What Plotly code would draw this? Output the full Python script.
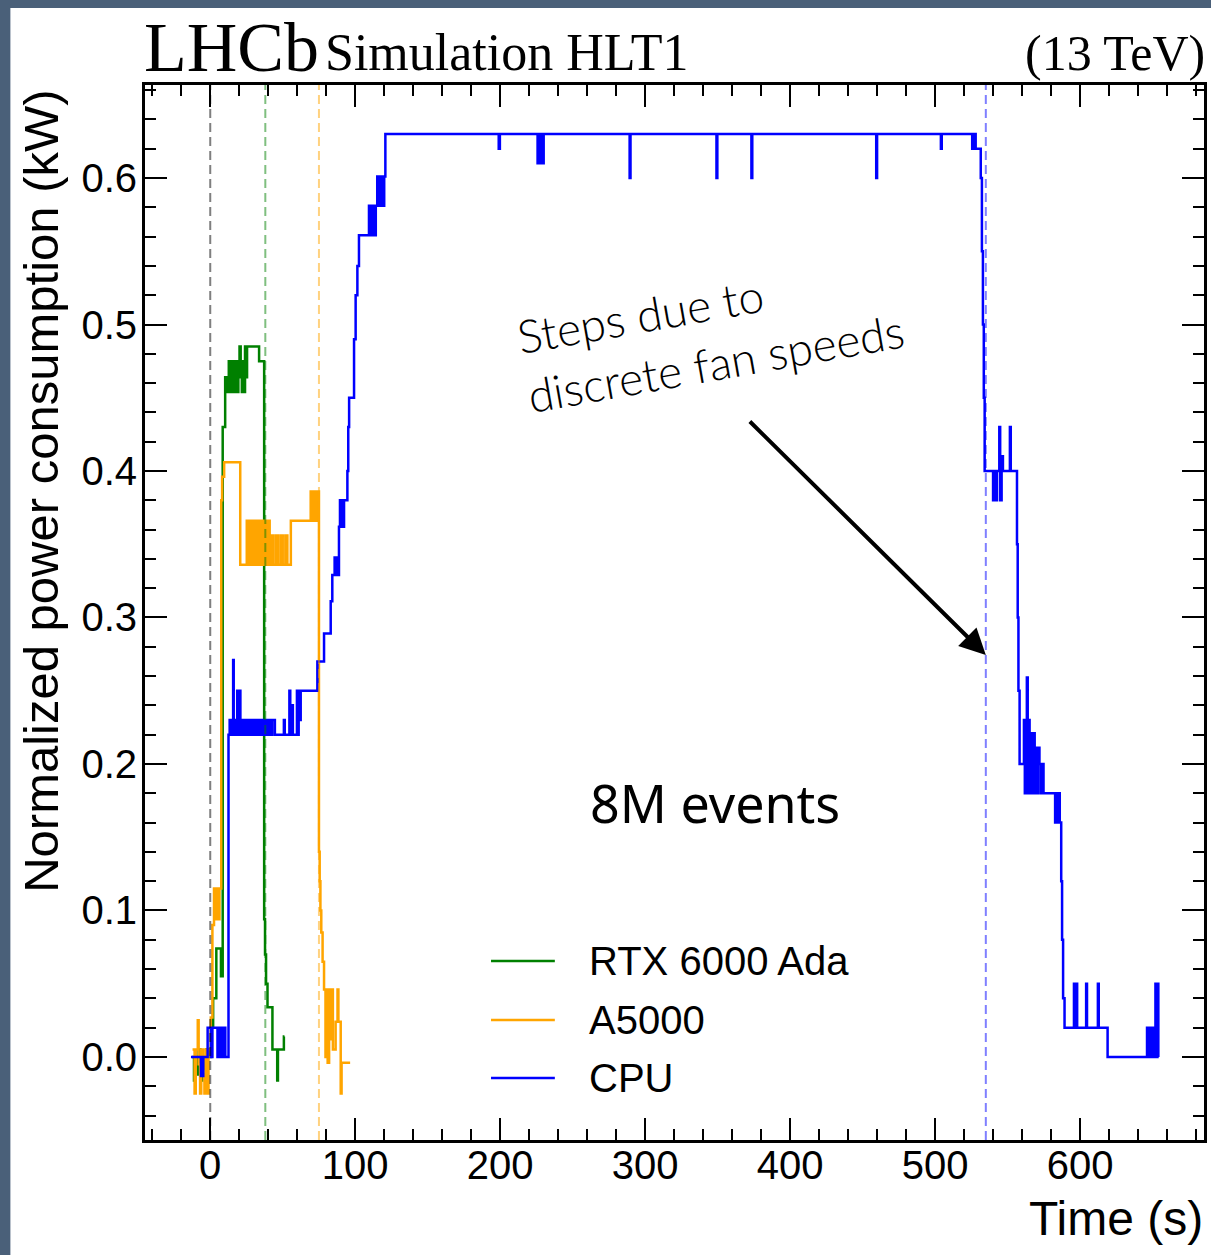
import plotly.graph_objects as go

# ---------------- data ----------------
rtx_t = [-12.5, -11.2, -10.4, -9.2, -8.0, -6.8, -5.5, -4.0, -2.6, -1.2,
         0.6, 2.0, 4.2, 7.4, 8.6, 10.3, 11.0, 11.6, 12.2, 12.8,
         13.4, 14.0, 14.6, 15.2, 15.8, 16.4, 17.0, 17.8, 18.6, 19.4,
         20.2, 21.0, 21.8, 22.6, 23.2, 24.0, 24.8, 25.4, 33.7, 37.2,
         37.8, 38.5, 39.5, 42.9, 46.2, 46.7, 50.8, 51.2]
rtx_v = [0.0, -0.016, 0.0, -0.012, 0.005, -0.016, 0.0, -0.008, 0.005, 0.0,
         0.02, 0.04, 0.074, 0.055, 0.43, 0.464, 0.454, 0.464, 0.454, 0.475,
         0.454, 0.475, 0.464, 0.454, 0.475, 0.454, 0.464, 0.475, 0.454, 0.475,
         0.485, 0.464, 0.454, 0.475, 0.454, 0.485, 0.464, 0.485, 0.475, 0.094,
         0.07, 0.05, 0.034, 0.005, -0.016, 0.005, 0.014, 0.014]

a5k_t = [-12.2, -10.8, -10.0, -8.6, -8.0, -7.0, -6.2, -5.0, -4.0, -3.2,
         -2.0, -1.2, 0.4, 1.5, 2.6, 3.6, 4.6, 5.6, 6.4, 7.6,
         8.2, 9.6,
         20.7, 25.2, 26.4, 27.6, 28.8, 30.0, 31.2, 32.6, 33.8, 35.0,
         36.2, 37.4, 38.6, 39.8, 41.0, 42.2, 43.6, 45.4, 46.8, 48.6,
         50.0, 51.8, 53.2, 55.6,
         69.3, 70.0, 70.7, 71.4, 72.1, 72.8, 73.5, 75.0, 75.5, 76.0,
         76.6, 77.5, 78.5, 79.5, 80.3, 81.0, 82.0, 82.8, 84.0, 84.6,
         86.5, 87.8, 88.4, 90.0, 90.6, 96.5]
a5k_v = [0.005, -0.025, 0.005, 0.025, -0.005, -0.025, 0.005, -0.012, -0.025, 0.005,
         -0.025, 0.005, 0.027, 0.09, 0.115, 0.094, 0.115, 0.094, 0.115, 0.38,
         0.396, 0.406,
         0.336, 0.366, 0.336, 0.366, 0.336, 0.366, 0.336, 0.366, 0.336, 0.366,
         0.336, 0.366, 0.336, 0.366, 0.336, 0.356, 0.336, 0.356, 0.336, 0.356,
         0.336, 0.356, 0.336, 0.366,
         0.386, 0.366, 0.386, 0.366, 0.386, 0.366, 0.386, 0.14, 0.12, 0.10,
         0.085, 0.065, 0.046, 0.0, 0.046, -0.004, 0.046, 0.012, 0.046, 0.005,
         0.024, 0.046, 0.024, -0.025, -0.004, -0.004]

cpu_t = [
    -13.3, -6.4, -4.8, -1.8, 0.5, 1.5, 5.0, 5.6, 6.3, 7.0, 7.7, 8.4, 9.1, 9.7, 10.4,
    12.6, 13.4, 14.2, 15.0, 15.8, 16.2, 17.0, 17.6, 18.6, 19.0,
    20.3, 20.8, 21.6, 22.4, 23.2, 24.0, 24.8, 25.6, 26.6, 27.4,
    28.4, 29.2, 30.2, 31.0, 32.0, 32.8, 33.8, 34.6, 35.6, 36.4,
    37.4, 38.2, 39.2, 40.0, 41.0, 41.8, 42.8, 44.6, 50.8, 51.4,
    54.6, 55.2, 56.4, 57.0, 59.8, 60.4, 61.0, 61.6, 62.4,
    73.9, 78.5, 83.1, 84.2, 85.8, 86.5, 87.2, 88.0, 88.8, 89.5,
    90.2, 90.9, 91.6, 92.3, 94.6, 95.2, 95.8, 99.2, 100.3, 101.5,
    102.6, 109.5, 110.3, 111.0, 111.8, 112.6, 113.4, 114.2, 115.2, 116.0,
    116.8, 117.6, 118.4, 119.4, 120.0, 120.8,
    199.0, 199.8, 225.8, 226.4, 227.0, 227.6, 228.2, 228.8, 229.4, 230.0,
    289.3, 289.9, 349.2, 349.8, 373.3, 373.9, 459.4, 460.0, 504.0, 504.6,
    525.6, 526.2, 526.8, 527.4, 528.0,
    531.5, 532.3, 533.0, 533.6, 534.2, 540.0, 540.8, 541.6, 542.7, 544.3,
    544.9, 545.9, 546.8, 551.6, 552.2, 556.5, 557.0, 557.5, 558.3, 561.3,
    561.9, 562.5, 563.3, 563.9, 564.5, 565.2, 566.5, 567.2, 568.0, 568.7,
    569.6, 570.3, 571.2, 572.0, 573.0, 574.0, 574.8, 582.8, 583.6, 584.4,
    585.2, 586.0, 587.0, 587.6, 588.3, 589.3, 595.8, 596.4, 597.4, 598.0,
    604.2, 604.8, 612.3, 612.9, 619.0, 646.2, 647.0, 647.8, 648.6, 649.4,
    650.2, 651.2, 652.0, 652.6, 653.4, 654.0]
cpu_v = [
    0.0, -0.013, 0.0, 0.02, 0.0, 0.02, 0.0, 0.02, 0.0, 0.02, 0.0, 0.02, 0.0, 0.02, 0.0,
    0.22, 0.23, 0.22, 0.23, 0.271, 0.22, 0.23, 0.22, 0.25, 0.22,
    0.25, 0.22, 0.23, 0.22, 0.23, 0.22, 0.23, 0.22, 0.23, 0.22,
    0.23, 0.22, 0.23, 0.22, 0.23, 0.22, 0.23, 0.22, 0.23, 0.22,
    0.23, 0.22, 0.23, 0.22, 0.23, 0.22, 0.23, 0.22, 0.23, 0.22,
    0.25, 0.22, 0.24, 0.22, 0.25, 0.22, 0.25, 0.23, 0.25,
    0.27, 0.289, 0.311, 0.329, 0.341, 0.329, 0.341, 0.329, 0.362, 0.38,
    0.362, 0.38, 0.362, 0.38, 0.40, 0.43, 0.45, 0.49, 0.52, 0.54,
    0.561, 0.581, 0.561, 0.581, 0.561, 0.581, 0.561, 0.581, 0.601, 0.581,
    0.601, 0.581, 0.601, 0.581, 0.601, 0.63,
    0.62, 0.63, 0.61, 0.63, 0.61, 0.63, 0.61, 0.63, 0.61, 0.63,
    0.60, 0.63, 0.60, 0.63, 0.60, 0.63, 0.60, 0.63, 0.62, 0.63,
    0.62, 0.63, 0.62, 0.63, 0.62,
    0.60, 0.55, 0.50, 0.45, 0.40, 0.38, 0.40, 0.38, 0.40, 0.43,
    0.38, 0.41, 0.40, 0.43, 0.40, 0.35, 0.30, 0.25, 0.20, 0.23,
    0.18, 0.23, 0.259, 0.18, 0.23, 0.18, 0.221, 0.18, 0.221, 0.18,
    0.211, 0.18, 0.211, 0.20, 0.18, 0.20, 0.18, 0.16, 0.18, 0.16,
    0.18, 0.16, 0.12, 0.08, 0.04, 0.02, 0.05, 0.02, 0.05, 0.02,
    0.05, 0.02, 0.05, 0.02, 0.0, 0.02, 0.0, 0.02, 0.0, 0.02,
    0.0, 0.02, 0.05, 0.0, 0.05, 0.0]

assert len(rtx_t) == len(rtx_v)
assert len(a5k_t) == len(a5k_v)
assert len(cpu_t) == len(cpu_v)

series_names = ["RTX 6000 Ada", "A5000", "CPU"]
series_colors = ["#008000", "#FFA500", "#0000FF"]
marker_t = [0, 38, 75, 535]            # dashed vertical reference times (s)
marker_colors = ["rgba(0,0,0,0.5)", "rgba(0,128,0,0.5)",
                 "rgba(255,165,0,0.5)", "rgba(0,0,255,0.5)"]

# ---------------- figure ----------------
W, H = 1211, 1255
ML, MR, MT, MB = 145, 4, 85, 115
PW, PH = W - ML - MR, H - MT - MB


def px_x(p):
    return (p - ML) / PW


def px_y(p):
    return (H - MB - p) / PH


fig = go.Figure()
for t, v, name, col in zip([rtx_t, a5k_t, cpu_t], [rtx_v, a5k_v, cpu_v],
                           series_names, series_colors):
    fig.add_trace(go.Scatter(x=t, y=v, mode="lines", name=name,
                             line=dict(color=col, width=2.5, shape="hv")))

shapes = [dict(type="rect", xref="paper", yref="paper",
               x0=px_x(10), x1=1.05, y0=-0.3, y1=px_y(8),
               fillcolor="white", line=dict(width=0), layer="below")]
for t, c in zip(marker_t, marker_colors):
    shapes.append(dict(type="line", xref="x", yref="paper", x0=t, x1=t, y0=0, y1=1,
                       line=dict(color=c, width=2, dash="9px,5px"), layer="above"))

# manual legend
leg_y = [961, 1020, 1078]
annotations = []
for name, col, yy in zip(series_names, series_colors, leg_y):
    shapes.append(dict(type="line", xref="paper", yref="paper",
                       x0=px_x(492), x1=px_x(556), y0=px_y(yy), y1=px_y(yy),
                       line=dict(color=col, width=2.5)))
    annotations.append(dict(text=name, xref="paper", yref="paper", x=px_x(588),
                            y=px_y(yy), xanchor="left", yanchor="middle", showarrow=False,
                            font=dict(family="Liberation Sans", size=40, color="black")))

serif = "Liberation Serif"
annotations += [
    dict(text="LHCb", xref="paper", yref="paper", x=px_x(142), y=px_y(47),
         xanchor="left", yanchor="middle", showarrow=False,
         font=dict(family=serif, size=70, color="black")),
    dict(text="Simulation HLT1", xref="paper", yref="paper", x=px_x(324), y=px_y(53),
         xanchor="left", yanchor="middle", showarrow=False,
         font=dict(family=serif, size=52, color="black")),
    dict(text="(13 TeV)", xref="paper", yref="paper", x=px_x(1210), y=px_y(53),
         xanchor="right", yanchor="middle", showarrow=False,
         font=dict(family=serif, size=50, color="black")),
    dict(text="Normalized power consumption (kW)", xref="paper", yref="paper",
         x=px_x(40), y=px_y(88), xanchor="center", yanchor="top", textangle=-90,
         showarrow=False, font=dict(family="Liberation Sans", size=49, color="black")),
    dict(text="Time (s)", xref="paper", yref="paper", x=px_x(1208), y=px_y(1218),
         xanchor="right", yanchor="middle", showarrow=False,
         font=dict(family="Liberation Sans", size=48, color="black")),
    dict(text="8M events", x=348.5, y=0.1734, xref="x", yref="y", showarrow=False,
         xanchor="center", yanchor="middle",
         font=dict(family="Noto Sans", size=52, color="black")),
    dict(text="Steps due to<br>discrete fan speeds", x=345.0, y=0.494, xref="x", yref="y",
         showarrow=False, align="left", textangle=-10, xanchor="center", yanchor="middle",
         font=dict(family="Lato", size=46, color="black", weight=300)),
    dict(text="", x=535.0, y=0.2744, ax=371.2, ay=0.4348, xref="x", yref="y",
         axref="x", ayref="y", showarrow=True, arrowhead=2, arrowsize=1.3,
         arrowwidth=4, arrowcolor="black", standoff=0),
]

axis_common = dict(ticks="inside", ticklen=22, tickwidth=1.5, tickcolor="black",
                   showline=True, linewidth=3, linecolor="black", mirror="ticks",
                   showgrid=False, zeroline=False,
                   tickfont=dict(family="Liberation Sans", size=40, color="black"))

fig.update_layout(
    width=W, height=H, autosize=False,
    margin=dict(l=ML, r=MR, t=MT, b=MB, pad=0),
    paper_bgcolor="#4a6079", plot_bgcolor="white",
    showlegend=False,
    shapes=shapes, annotations=annotations,
    xaxis=dict(range=[-45.0, 685.5], tick0=0, dtick=100, ticklabelstandoff=-12,
               minor=dict(tick0=0, dtick=20, ticks="inside", ticklen=11,
                          tickwidth=1.5, tickcolor="black", showgrid=False),
               **axis_common),
    yaxis=dict(range=[-0.0567, 0.6635], tick0=0, dtick=0.1, tickformat=".1f",
               ticklabelstandoff=-3,
               minor=dict(tick0=0, dtick=0.02, ticks="inside", ticklen=11,
                          tickwidth=1.5, tickcolor="black", showgrid=False),
               **axis_common),
)

fig.write_html("out.html", config={"displayModeBar": False},
               post_script="document.body.style.margin='0';"
                           "document.body.style.padding='0';"
                           "document.body.style.overflow='hidden';")
